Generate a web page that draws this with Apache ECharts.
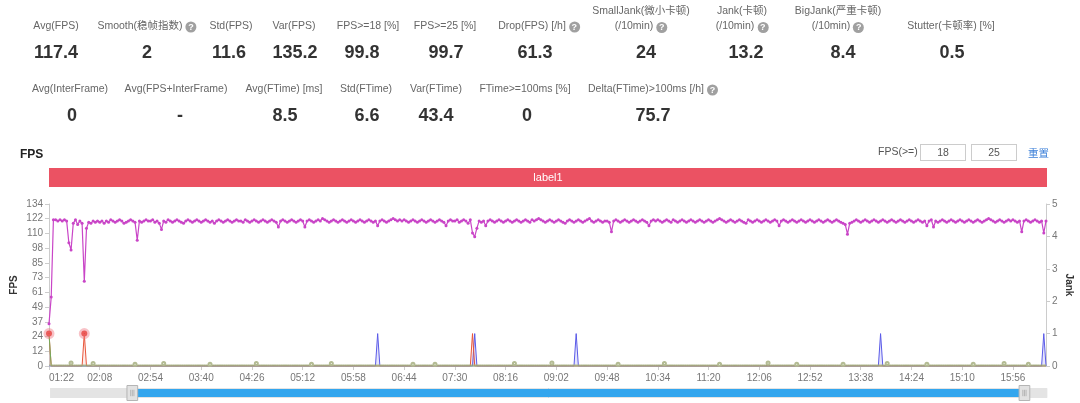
<!DOCTYPE html>
<html>
<head>
<meta charset="utf-8">
<title>FPS</title>
<script src="https://cdn.jsdelivr.net/npm/echarts@6/dist/echarts.min.js"></script>
<style>
  body { margin: 0; background: #fff; font-family: "Liberation Sans", "Noto Sans CJK SC", sans-serif; }
  .page { position: relative; width: 1080px; height: 403px; overflow: hidden; }
  #chart { position: absolute; left: 0; top: 0; width: 1080px; height: 403px; }
  .lbl { position: absolute; transform: translate(-50%, -50%); white-space: nowrap; text-align: center;
         color: #666; font-size: 10.5px; line-height: 15px; }
  .val { position: absolute; transform: translate(-50%, -50%); white-space: nowrap;
         color: #333; font-size: 18px; font-weight: bold; }
  .q { display: inline-block; width: 11px; height: 11px; border-radius: 50%; background: #a0a0a0; color: #fff;
       font-size: 9px; line-height: 11px; text-align: center; vertical-align: -1px; margin-left: 3px; font-weight: bold; }
  .title { position: absolute; left: 20px; top: 147px; font-size: 12px; font-weight: bold; color: #222; }
  .fpsge { position: absolute; left: 878px; top: 145px; font-size: 10.5px; color: #555; }
  .inp { position: absolute; top: 144px; width: 44px; height: 15px; border: 1px solid #ccc; font-size: 10.5px;
         color: #555; text-align: center; line-height: 15px; }
  .reset { position: absolute; left: 1028px; top: 145px; font-size: 10.5px; color: #3b7fd8; }
</style>
</head>
<body>
<div class="page">
  <div id="chart"></div>
  <div id="metrics"></div>
  <div class="title">FPS</div>
  <div class="fpsge">FPS(&gt;=)</div>
  <div class="inp" style="left:920px">18</div>
  <div class="inp" style="left:971px">25</div>
  <div class="reset">重置</div>
</div>
<script>
// 指标面板
const row1Labels = ['Avg(FPS)', 'Smooth(稳帧指数)', 'Std(FPS)', 'Var(FPS)', 'FPS>=18 [%]', 'FPS>=25 [%]',
  'Drop(FPS) [/h]', 'SmallJank(微小卡顿)\n(/10min)', 'Jank(卡顿)\n(/10min)', 'BigJank(严重卡顿)\n(/10min)', 'Stutter(卡顿率) [%]'];
const row1Values = ['117.4', '2', '11.6', '135.2', '99.8', '99.7', '61.3', '24', '13.2', '8.4', '0.5'];
const row1Help = [0, 1, 0, 0, 0, 0, 1, 1, 1, 1, 0];
const row1LabelX = [56, 147, 231, 294, 368, 445, 539, 641, 742, 838, 951];
const row1ValueX = [56, 147, 229, 295, 362, 446, 535, 646, 746, 843, 952];

const row2Labels = ['Avg(InterFrame)', 'Avg(FPS+InterFrame)', 'Avg(FTime) [ms]', 'Std(FTime)', 'Var(FTime)',
  'FTime>=100ms [%]', 'Delta(FTime)>100ms [/h]'];
const row2Values = ['0', '-', '8.5', '6.6', '43.4', '0', '75.7'];
const row2Help = [0, 0, 0, 0, 0, 0, 1];
const row2LabelX = [70, 176, 284, 366, 436, 525, 653];
const row2ValueX = [72, 180, 285, 367, 436, 527, 653];

// 图表数据 (每 2 秒一个点)
const fpsStartIndex = 41;   // 01:22
const fpsEndIndex = 493;    // 16:26
const fpsTickLabels = ['0', '12', '24', '37', '49', '61', '73', '85', '98', '110', '122', '134'];
const fpsValues = [
  35, 57, 121, 121, 120, 121, 120, 121, 120, 102, 96, 118, 121, 117, 120, 118, 70, 114, 119, 118, 120, 119, 120,
  119, 120, 118, 120, 119, 121, 120, 119, 120, 121, 120, 118, 119, 120, 121, 120, 119, 104, 120, 119, 120, 121, 120,
  120, 121, 119, 120, 118, 113, 120, 119, 121, 120, 119, 120, 121, 120, 119, 118, 120, 121, 120, 119, 120, 121, 120,
  119, 120, 121, 120, 119, 120, 118, 120, 121, 120, 119, 120, 121, 120, 119, 120, 121, 120, 120, 119, 121, 120, 119,
  120, 121, 120, 119, 120, 121, 120, 119, 120, 121, 120, 119, 115, 120, 121, 120, 119, 120, 121, 120, 119, 120, 121,
  120, 115, 120, 121, 120, 119, 120, 121, 120, 122, 121, 120, 119, 120, 121, 120, 119, 120, 121, 120, 119, 120, 121,
  120, 119, 120, 121, 120, 119, 120, 121, 120, 119, 120, 116, 120, 121, 120, 119, 120, 121, 122, 121, 120, 121, 120,
  121, 120, 119, 120, 121, 120, 119, 120, 121, 120, 119, 120, 121, 120, 119, 120, 121, 120, 119, 116, 120, 121, 120,
  120, 121, 119, 120, 121, 120, 118, 121, 110, 107, 114, 120, 119, 120, 116, 120, 121, 120, 119, 120, 121, 120, 119,
  120, 121, 120, 119, 120, 121, 120, 119, 120, 121, 120, 119, 121, 120, 121, 122, 121, 120, 119, 120, 121, 120, 119,
  120, 121, 120, 119, 118, 120, 121, 120, 119, 120, 121, 120, 119, 120, 121, 122, 120, 119, 120, 121, 120, 119, 120,
  120, 119, 111, 120, 121, 120, 119, 120, 121, 120, 119, 120, 121, 120, 119, 120, 121, 120, 119, 116, 120, 121, 120,
  121, 120, 119, 120, 121, 120, 119, 121, 120, 119, 120, 121, 120, 119, 120, 121, 120, 119, 120, 121, 120, 119, 120,
  121, 120, 119, 120, 121, 122, 121, 120, 119, 120, 121, 120, 119, 120, 121, 120, 119, 118, 121, 120, 119, 120, 121,
  120, 119, 120, 121, 120, 119, 120, 121, 120, 116, 120, 121, 120, 119, 120, 121, 120, 119, 120, 121, 120, 119, 120,
  121, 120, 119, 120, 121, 120, 119, 120, 121, 120, 119, 120, 121, 120, 119, 118, 117, 109, 118, 119, 120, 121, 120,
  119, 120, 121, 120, 119, 120, 121, 120, 119, 120, 121, 120, 119, 120, 121, 120, 119, 120, 121, 120, 119, 120, 121,
  120, 119, 120, 121, 120, 119, 120, 116, 120, 121, 115, 120, 119, 120, 121, 120, 119, 120, 121, 120, 119, 120, 121,
  120, 119, 120, 121, 120, 119, 120, 121, 120, 119, 120, 121, 122, 121, 120, 119, 120, 121, 120, 119, 120, 121, 120,
  121, 120, 119, 120, 111, 120, 121, 120, 119, 120, 121, 120, 119, 120, 110, 120
];
// 卡顿点 [时间, 值]
const jankPoints = [['06:20', 1], ['07:48', 1], ['09:20', 1], ['13:56', 1], ['16:24', 1]];
const bigJankPoints = [['01:22', 1], ['01:54', 1], ['07:46', 1]];
const bigJankMarked = ['01:22', '01:54'];
const smallJankPoints = [['01:22', 1]];
const interFrameBase = 0.8;
const interFramePoints = [['01:42', 2.5], ['02:02', 2], ['02:40', 1.5], ['03:06', 2], ['03:48', 1.5], ['04:30', 2],
  ['05:20', 1.5], ['05:38', 2], ['06:52', 1.5], ['07:12', 1.5], ['08:24', 2], ['08:58', 2.5], ['09:58', 1.5],
  ['10:40', 2], ['11:30', 1.5], ['12:14', 2.5], ['12:40', 1.5], ['13:22', 1.5], ['14:02', 2], ['14:38', 1.5],
  ['15:20', 1.5], ['15:48', 2], ['16:10', 1.5]];

const timeLabels = [];
for (let s = 0; s <= 1008; s += 2) {
  const m = Math.floor(s / 60), sec = s % 60;
  timeLabels.push((m < 10 ? '0' : '') + m + ':' + (sec < 10 ? '0' : '') + sec);
}

// 面板
function addMetric(label, value, help, lx, vx, ly, vy) {
  const box = document.getElementById('metrics');
  const l = document.createElement('div');
  l.className = 'lbl';
  const lines = label.split('\n');
  l.innerHTML = lines.map((t, i) => {
    const esc = t.replace(/&/g, '&amp;').replace(/</g, '&lt;').replace(/>/g, '&gt;');
    return esc + (help && i === lines.length - 1 ? '<span class="q">?</span>' : '');
  }).join('<br>');
  l.style.left = lx + 'px';
  l.style.top = (lines.length > 1 ? ly - 7.5 : ly) + 'px';
  box.appendChild(l);
  const v = document.createElement('div');
  v.className = 'val';
  v.textContent = value;
  v.style.left = vx + 'px';
  v.style.top = vy + 'px';
  box.appendChild(v);
}
row1Labels.forEach((t, i) => addMetric(t, row1Values[i], row1Help[i], row1LabelX[i], row1ValueX[i], 25, 52));
row2Labels.forEach((t, i) => addMetric(t, row2Values[i], row2Help[i], row2LabelX[i], row2ValueX[i], 88, 115));

// 系列
function pad(values, offset) {
  return new Array(offset).fill(null).concat(values);
}
function fromPoints(points, base) {
  const m = {};
  points.forEach(p => { m[p[0]] = p[1]; });
  return timeLabels.map((t, i) => (i < fpsStartIndex || i > fpsEndIndex) ? null : (t in m ? m[t] : base));
}

const bigJankData = fromPoints(bigJankPoints, 0).map((v, i) => {
  if (bigJankMarked.indexOf(timeLabels[i]) >= 0) {
    return {
      value: v, symbol: 'circle', symbolSize: 6,
      itemStyle: { color: '#e8453a', borderColor: 'rgba(240,120,130,0.45)', borderWidth: 5 }
    };
  }
  return v;
});
const interFrameData = fromPoints(interFramePoints, interFrameBase).map((v, i) => {
  const hit = interFramePoints.some(p => p[0] === timeLabels[i]);
  return hit ? { value: v, symbol: 'emptyCircle', symbolSize: 3 } : v;
});

const labelEvery = (idx) => idx >= fpsStartIndex && (idx - fpsStartIndex) % 23 === 0;

let myChart = echarts.init(document.getElementById('chart'));
let option = {
  animation: false,
  grid: { left: 49, right: 34, top: 204, bottom: 37, outerBoundsMode: 'none' },
  graphic: [
    { type: 'rect', left: 49, top: 168, shape: { width: 998, height: 19 }, style: { fill: '#eb5263' } },
    { type: 'text', x: 548, y: 178, style: { text: 'label1', fill: '#fff', font: '11px "Liberation Sans", sans-serif',
      align: 'center', verticalAlign: 'middle' } }
  ],
  xAxis: {
    type: 'category',
    boundaryGap: false,
    data: timeLabels,
    axisLine: { lineStyle: { color: '#ccc' } },
    axisTick: { show: true, interval: labelEvery, length: 4, lineStyle: { color: '#ccc' } },
    axisLabel: { interval: labelEvery, color: '#777', fontSize: 10, margin: 7, alignMinLabel: 'left' },
    splitLine: { show: false }
  },
  yAxis: [
    {
      type: 'value', min: 0, max: 134, interval: 134 / 11,
      name: 'FPS', nameLocation: 'middle', nameGap: 30, nameMoveOverlap: false,
      nameTextStyle: { color: '#333', fontSize: 10, fontWeight: 'bold' },
      axisLine: { show: true, lineStyle: { color: '#ccc' } },
      axisTick: { show: true, length: 4, lineStyle: { color: '#ccc' } },
      axisLabel: { color: '#777', fontSize: 10, margin: 6, formatter: (v, i) => fpsTickLabels[i] },
      splitLine: { show: false }
    },
    {
      type: 'value', min: 0, max: 5, interval: 1, position: 'right',
      name: 'Jank', nameLocation: 'middle', nameGap: 18, nameRotate: -90, nameMoveOverlap: false,
      nameTextStyle: { color: '#333', fontSize: 10, fontWeight: 'bold' },
      axisLine: { show: true, lineStyle: { color: '#ccc' } },
      axisTick: { show: true, length: 4, lineStyle: { color: '#ccc' } },
      axisLabel: { color: '#777', fontSize: 10, margin: 6 },
      splitLine: { show: false }
    }
  ],
  dataZoom: [{
    type: 'slider', xAxisIndex: 0, startValue: fpsStartIndex, endValue: fpsEndIndex,
    left: 49, right: 34, bottom: 5, height: 10,
    showDetail: false, showDataShadow: false, brushSelect: false, moveHandleSize: 0,
    backgroundColor: '#e4e4e4', borderColor: '#e4e4e4', borderRadius: 0,
    fillerColor: '#33a6ee',
    handleIcon: 'path://M0,0H10V14H0Z M3.5,4V10 M5,4V10 M6.5,4V10',
    handleSize: 15,
    handleStyle: { color: '#e2e2e2', borderColor: '#b5b5b5', borderWidth: 1 }
  }],
  series: [
    {
      name: 'Jank', type: 'line', yAxisIndex: 1, data: fromPoints(jankPoints, 0),
      symbol: 'none', lineStyle: { color: '#5a5ae8', width: 1 },
      areaStyle: { color: 'rgba(110,110,235,0.25)' }
    },
    {
      name: 'BigJank', type: 'line', yAxisIndex: 1, data: bigJankData,
      symbol: 'none', showSymbol: true, showAllSymbol: true,
      itemStyle: { color: '#e8453a' },
      lineStyle: { color: '#e8553a', width: 1 },
      areaStyle: { color: 'rgba(232,85,58,0.15)' }
    },
    {
      name: 'SmallJank', type: 'line', yAxisIndex: 1, data: fromPoints(smallJankPoints, 0),
      symbol: 'none', lineStyle: { color: '#72ad5c', width: 1 }
    },
    {
      name: 'InterFrame', type: 'line', yAxisIndex: 0, data: interFrameData,
      symbol: 'none', showSymbol: true, showAllSymbol: true,
      itemStyle: { color: '#b3bb92' },
      lineStyle: { color: '#a9b285', width: 1 }
    },
    {
      name: 'FPS', type: 'line', yAxisIndex: 0, data: pad(fpsValues, fpsStartIndex),
      symbol: 'circle', symbolSize: 3, showAllSymbol: true,
      itemStyle: { color: '#c945c7' },
      lineStyle: { color: '#c945c7', width: 1.2 }
    }
  ]
};
myChart.setOption(option);
</script>
</body>
</html>
